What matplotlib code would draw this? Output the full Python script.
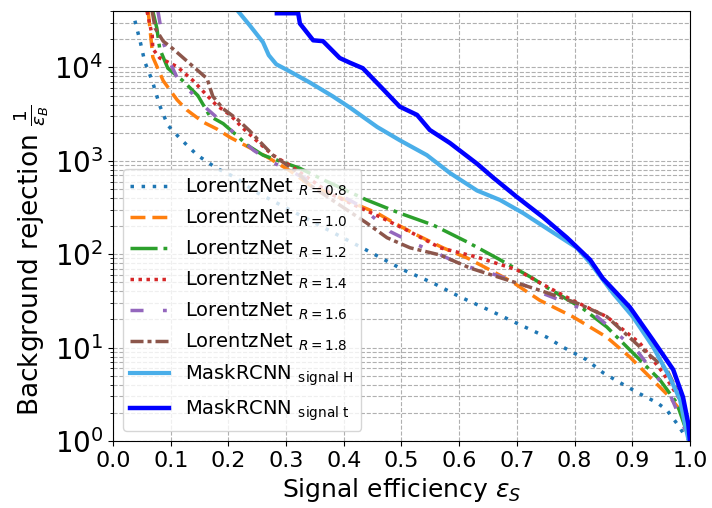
import numpy as np
import matplotlib
matplotlib.use("Agg")
import matplotlib.pyplot as plt

# signal efficiency / background rejection
eff_08 = [0.038, 0.047, 0.055, 0.068, 0.081, 0.095, 0.116, 0.146, 0.180, 0.215, 0.243, 0.44, 0.503,
          0.555, 0.601, 0.653, 0.700, 0.752, 0.780, 0.821, 0.849, 0.879, 0.913, 0.943, 0.960, 0.977, 0.991, 1.0]
rej_08 = [31600, 19100, 11500, 7200, 3900, 2400, 1740, 1150, 830, 650, 480, 110, 68,
          49, 35, 25, 18.2, 12.9, 10.1, 7.4, 5.4, 4.2, 3.2, 2.57, 2.14, 1.55, 1.15, 1.0]

eff_10 = [0.061, 0.064, 0.069, 0.087, 0.111, 0.128, 0.156, 0.180, 0.203, 0.237, 0.267, 0.307, 0.341,
          0.458, 0.485, 0.527, 0.572, 0.614, 0.659, 0.693, 0.740, 0.797, 0.856, 0.896, 0.931, 0.965, 0.983, 1.0]
rej_10 = [39800, 26300, 12900, 7200, 4500, 3500, 2600, 2190, 1780, 1380, 1100, 780, 550,
          275, 220, 160, 117, 91, 65, 50, 32, 21.4, 12.9, 7.9, 4.8, 2.95, 2.14, 1.0]

eff_12 = [0.069, 0.076, 0.081, 0.095, 0.121, 0.147, 0.168, 0.191, 0.215, 0.232, 0.260, 0.324, 0.371,
          0.440, 0.497, 0.555, 0.614, 0.671, 0.728, 0.752, 0.815, 0.856, 0.905, 0.948, 0.977, 1.0]
rej_12 = [39800, 26300, 15800, 9800, 7200, 5000, 3000, 2500, 1860, 1480, 1150, 830, 600,
          380, 275, 205, 135, 87, 55, 44, 26, 16.6, 8.3, 4.5, 2.57, 1.0]

eff_14 = [0.059, 0.068, 0.069, 0.081, 0.111, 0.139, 0.163, 0.180, 0.203, 0.225, 0.250, 0.277, 0.307,
          0.347, 0.381, 0.463, 0.510, 0.567, 0.631, 0.700, 0.752, 0.797, 0.856, 0.913, 0.953, 0.983, 1.0]
rej_14 = [39800, 21900, 15800, 12600, 10200, 7200, 5000, 3900, 3100, 2240, 1620, 1150, 890,
          600, 430, 250, 180, 117, 93, 68, 45, 32, 21.4, 11.2, 5.4, 2.75, 1.0]

eff_16 = [0.078, 0.087, 0.099, 0.111, 0.133, 0.163, 0.189, 0.217, 0.244, 0.274, 0.324, 0.371, 0.428,
          0.480, 0.520, 0.562, 0.607, 0.653, 0.705, 0.745, 0.832, 0.908, 0.965, 1.0]
rej_16 = [39800, 18600, 11200, 7800, 5600, 3600, 2600, 1820, 1290, 980, 690, 510, 330,
          175, 132, 102, 76, 63, 49, 38, 23.4, 9.3, 3.2, 1.0]

eff_18 = [0.068, 0.073, 0.087, 0.104, 0.133, 0.163, 0.173, 0.191, 0.215, 0.237, 0.260, 0.277, 0.319,
          0.341, 0.440, 0.475, 0.515, 0.567, 0.619, 0.671, 0.740, 0.804, 0.856, 0.913, 0.960, 0.983, 1.0]
rej_18 = [39800, 26300, 19100, 15800, 11000, 7600, 4900, 3600, 2800, 2090, 1480, 1150, 760,
          550, 215, 150, 117, 98, 71, 56, 41, 30, 21.4, 10.2, 5.8, 2.95, 1.0]

eff_H = [0.217, 0.237, 0.260, 0.270, 0.283, 0.303, 0.341, 0.381, 0.411, 0.458, 0.497, 0.544, 0.584,
         0.631, 0.671, 0.711, 0.757, 0.804, 0.827, 0.867, 0.901, 0.936, 0.965, 0.983, 0.991, 0.998]
rej_H = [39800, 28200, 18600, 13500, 10800, 9300, 6900, 4900, 3700, 2300, 1660, 1150, 740,
         480, 380, 275, 180, 117, 81, 38, 21.4, 10.2, 4.8, 2.75, 1.55, 1.0]

eff_t = [0.284, 0.321, 0.324, 0.347, 0.364, 0.393, 0.411, 0.433, 0.463, 0.497, 0.527, 0.549, 0.584,
         0.631, 0.659, 0.700, 0.745, 0.787, 0.827, 0.849, 0.896, 0.936, 0.971, 0.988, 0.997, 1.0]
rej_t = [38000, 38000, 29500, 19500, 19100, 12600, 11200, 9800, 6300, 3800, 3100, 2140, 1550,
         930, 660, 410, 250, 150, 87, 55, 27, 12.0, 5.8, 2.95, 1.55, 1.0]

fig = plt.figure(figsize=(7.12, 5.08), dpi=100)
ax = fig.add_axes([0.1587, 0.132, 0.8103, 0.846])

lw = 2.5
ax.plot(eff_08, rej_08, color='tab:blue', lw=lw, ls=(0, (1, 2.2)), label=r'LorentzNet $_{R=0.8}$')
ax.plot(eff_10, rej_10, color='tab:orange', lw=lw, ls=(0, (4.3, 2)), label=r'LorentzNet $_{R=1.0}$')
ax.plot(eff_12, rej_12, color='tab:green', lw=lw, ls=(0, (7.8, 1.7, 1.1, 1.7)), label=r'LorentzNet $_{R=1.2}$')
ax.plot(eff_14, rej_14, color='tab:red', lw=lw, ls=(0, (1, 1.3)), label=r'LorentzNet $_{R=1.4}$')
ax.plot(eff_16, rej_16, color='tab:purple', lw=lw, ls=(0, (3.75, 5.6, 1.1, 5.6)), label=r'LorentzNet $_{R=1.6}$')
ax.plot(eff_18, rej_18, color='tab:brown', lw=lw, ls=(0, (3.75, 1.15, 1.15, 1.15)), label=r'LorentzNet $_{R=1.8}$')
ax.plot(eff_H, rej_H, color='#4aaee9', lw=3, label=r'MaskRCNN $_{\mathrm{signal\ H}}$')
ax.plot(eff_t, rej_t, color='blue', lw=3.2, label=r'MaskRCNN $_{\mathrm{signal\ t}}$')

ax.set_yscale('log')
ax.set_xlim(0, 1)
ax.set_ylim(1, 4e4)
ax.set_xticks(np.arange(0, 1.01, 0.1))
ax.set_xticklabels(['%.1f' % v for v in np.arange(0, 1.01, 0.1)])
ax.tick_params(axis='x', labelsize=16)
ax.tick_params(axis='y', labelsize=20)
ax.grid(True, which='both', ls='--', color='#b0b0b0')
ax.set_xlabel(r'Signal efficiency $\epsilon_S$', fontsize=18)
ax.set_ylabel(r'Background rejection $\frac{1}{\epsilon_B}$', fontsize=19)
ax.yaxis.set_label_coords(-0.108, 0.42)
ax.legend(loc='lower left', fontsize=14)

fig.savefig('out.png', dpi=100)
